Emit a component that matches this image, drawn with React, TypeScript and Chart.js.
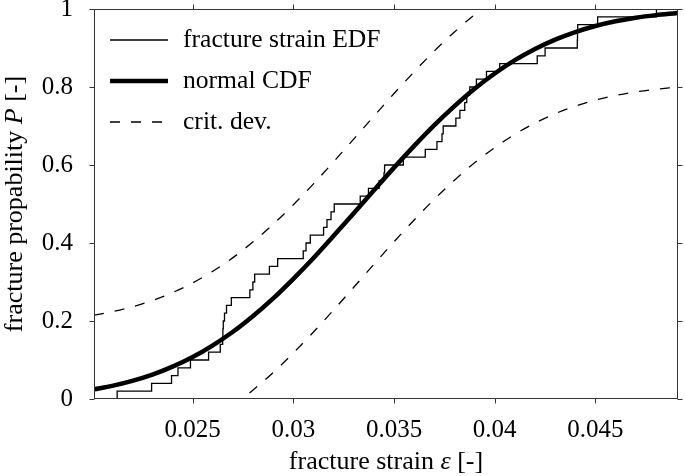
import React, { useEffect, useRef } from "react";
import { Chart, registerables } from "chart.js";

Chart.register(...registerables);

const X_MIN = 0.0201;
const X_MAX = 0.0491;
const xTicks = [0.025, 0.03, 0.035, 0.04, 0.045];
const xTickLabels = ["0.025", "0.03", "0.035", "0.04", "0.045"];
const yTicks = [0, 0.2, 0.4, 0.6, 0.8, 1];
const yTickLabels = ["0", "0.2", "0.4", "0.6", "0.8", "1"];

const seriesLabels = ["fracture strain EDF", "normal CDF", "crit. dev."];

const edfX = [
  0.0201, 0.02125, 0.02296, 0.02395, 0.02427, 0.02489, 0.02579, 0.02637, 0.02649,
  0.0265, 0.02652, 0.02658, 0.02668, 0.02692, 0.02784, 0.02799, 0.02808, 0.02881,
  0.02922, 0.03049, 0.03063, 0.03084, 0.0315, 0.03167, 0.03187, 0.03203, 0.03332,
  0.03373, 0.03426, 0.0345, 0.03453, 0.03546, 0.03655, 0.03713, 0.03738, 0.03744,
  0.03807, 0.03827, 0.03851, 0.03861, 0.03876, 0.03909, 0.03959, 0.04025, 0.04211,
  0.0425, 0.0441, 0.04411, 0.04412, 0.04511, 0.04803, 0.0491,
];
const edfY = [
  0, 0.02, 0.04, 0.06, 0.08, 0.1, 0.12, 0.14, 0.16, 0.18, 0.2, 0.22, 0.24, 0.26,
  0.28, 0.3, 0.32, 0.34, 0.36, 0.38, 0.4, 0.42, 0.44, 0.46, 0.48, 0.5, 0.52, 0.54,
  0.56, 0.58, 0.6, 0.62, 0.64, 0.66, 0.68, 0.7, 0.72, 0.74, 0.76, 0.78, 0.8, 0.82,
  0.84, 0.86, 0.88, 0.9, 0.92, 0.94, 0.96, 0.98, 1.0, 1.0,
];

// normal CDF curve
const cdfX = [
  0.0201, 0.021, 0.022, 0.023, 0.024, 0.025, 0.026, 0.027, 0.028, 0.029, 0.03,
  0.031, 0.032, 0.033, 0.034, 0.035, 0.036, 0.037, 0.038, 0.039, 0.04, 0.041,
  0.042, 0.043, 0.044, 0.045, 0.046, 0.047, 0.048, 0.049, 0.0491,
];
const cdfY = [
  0.0249, 0.0337, 0.0464, 0.0625, 0.0829, 0.1077, 0.1377, 0.1725, 0.213, 0.2581,
  0.3082, 0.3617, 0.4184, 0.4765, 0.5353, 0.5933, 0.6491, 0.7023, 0.7511, 0.7956,
  0.8347, 0.8688, 0.8976, 0.9216, 0.941, 0.9565, 0.9684, 0.9776, 0.9843, 0.9893,
  0.9898,
];

// critical deviation bands
const critUpX = [
  0.0201, 0.021, 0.022, 0.023, 0.024, 0.025, 0.026, 0.027, 0.028, 0.029, 0.03,
  0.031, 0.032, 0.033, 0.034, 0.035, 0.036, 0.037, 0.038, 0.039, 0.04,
];
const critUpY = [
  0.2149, 0.2237, 0.2364, 0.2525, 0.2729, 0.2977, 0.3277, 0.3625, 0.403, 0.4481,
  0.4982, 0.5517, 0.6084, 0.6665, 0.7253, 0.7833, 0.8391, 0.8923, 0.9411, 0.9856,
  1.0247,
];
const critLoX = [
  0.027, 0.028, 0.029, 0.03, 0.031, 0.032, 0.033, 0.034, 0.035, 0.036, 0.037,
  0.038, 0.039, 0.04, 0.041, 0.042, 0.043, 0.044, 0.045, 0.046, 0.047, 0.048,
  0.049, 0.0491,
];
const critLoY = [
  -0.0175, 0.023, 0.0681, 0.1182, 0.1717, 0.2284, 0.2865, 0.3453, 0.4033, 0.4591,
  0.5123, 0.5611, 0.6056, 0.6447, 0.6788, 0.7076, 0.7316, 0.751, 0.7665, 0.7784,
  0.7876, 0.7943, 0.7993, 0.7998,
];

const FONT = "'Liberation Serif', 'Times New Roman', serif";
const INK = "#000";
const AXIS = "#333";
const TICK_SIZE = 25;
const LEGEND_SIZE = 25.6;
const TITLE_SIZE = 26;
const DASH = [10, 11];

const pts = (xs: number[], ys: number[]) => xs.map((x, i) => ({ x, y: ys[i] }));

const decorPlugin = {
  id: "decor",
  afterDatasetsDraw(chart: any) {
    const { ctx, chartArea: a, scales } = chart;
    const L = Math.round(a.left) + 0.5;
    const R = Math.round(a.right) - 0.5;
    const T = Math.round(a.top) + 0.5;
    const B = Math.round(a.bottom) - 0.5;
    ctx.save();
    ctx.strokeStyle = AXIS;
    ctx.lineWidth = 1;
    ctx.setLineDash([]);
    ctx.strokeRect(L, T, R - L, B - T);
    ctx.beginPath();
    const TL = 5;
    xTicks.forEach((v) => {
      const px = Math.round(scales.x.getPixelForValue(v)) + 0.5;
      ctx.moveTo(px, B);
      ctx.lineTo(px, B + TL);
      ctx.moveTo(px, T);
      ctx.lineTo(px, T - TL);
    });
    yTicks.forEach((v) => {
      const py = Math.round(scales.y.getPixelForValue(v)) + 0.5;
      ctx.moveTo(L, py);
      ctx.lineTo(L - TL, py);
      ctx.moveTo(R, py);
      ctx.lineTo(R + TL, py);
    });
    ctx.stroke();

    // legend (inside plot, top-left)
    const rows = [
      { label: seriesLabels[0], width: 1.3, dash: [] as number[] },
      { label: seriesLabels[1], width: 4.5, dash: [] as number[] },
      { label: seriesLabels[2], width: 1.3, dash: DASH },
    ];
    ctx.fillStyle = INK;
    ctx.font = `${LEGEND_SIZE}px ${FONT}`;
    ctx.textBaseline = "middle";
    ctx.textAlign = "left";
    rows.forEach((r, i) => {
      const y = a.top + 31 + i * 41;
      ctx.beginPath();
      ctx.strokeStyle = INK;
      ctx.lineWidth = r.width;
      ctx.setLineDash(r.dash);
      ctx.moveTo(a.left + 16, y);
      ctx.lineTo(a.left + 74, y);
      ctx.stroke();
      ctx.setLineDash([]);
      ctx.fillText(r.label, a.left + 89, y);
    });

    // axis titles with italic symbols
    const drawMixed = (parts: { t: string; it: boolean }[], cx: number, cy: number) => {
      const fontOf = (it: boolean) => `${it ? "italic " : ""}${TITLE_SIZE}px ${FONT}`;
      let total = 0;
      parts.forEach((p) => {
        ctx.font = fontOf(p.it);
        total += ctx.measureText(p.t).width;
      });
      let x = cx - total / 2;
      parts.forEach((p) => {
        ctx.font = fontOf(p.it);
        ctx.fillText(p.t, x, cy);
        x += ctx.measureText(p.t).width;
      });
    };
    ctx.fillStyle = INK;
    ctx.textBaseline = "middle";
    ctx.textAlign = "left";
    drawMixed(
      [
        { t: "fracture strain ", it: false },
        { t: "ε", it: true },
        { t: " [-]", it: false },
      ],
      (a.left + a.right) / 2,
      462
    );
    ctx.save();
    ctx.translate(15, (a.top + a.bottom) / 2);
    ctx.rotate(-Math.PI / 2);
    drawMixed(
      [
        { t: "fracture propability ", it: false },
        { t: "P", it: true },
        { t: " [-]", it: false },
      ],
      0,
      0
    );
    ctx.restore();
    ctx.restore();
  },
};

export default function App() {
  const canvasRef = useRef<HTMLCanvasElement | null>(null);

  useEffect(() => {
    if (!canvasRef.current) return;
    const chart = new Chart(canvasRef.current, {
      type: "line",
      data: {
        datasets: [
          {
            label: seriesLabels[0],
            data: pts(edfX, edfY),
            borderColor: INK,
            borderWidth: 1.3,
            stepped: "before",
            pointRadius: 0,
            fill: false,
          },
          {
            label: seriesLabels[1],
            data: pts(cdfX, cdfY),
            borderColor: INK,
            borderWidth: 4.5,
            cubicInterpolationMode: "monotone",
            pointRadius: 0,
            fill: false,
          },
          {
            label: seriesLabels[2],
            data: pts(critUpX, critUpY),
            borderColor: INK,
            borderWidth: 1.3,
            borderDash: DASH,
            cubicInterpolationMode: "monotone",
            pointRadius: 0,
            fill: false,
          },
          {
            label: seriesLabels[2] + " (lower)",
            data: pts(critLoX, critLoY),
            borderColor: INK,
            borderWidth: 1.3,
            borderDash: DASH,
            cubicInterpolationMode: "monotone",
            pointRadius: 0,
            fill: false,
          },
        ],
      },
      options: {
        animation: false,
        responsive: false,
        layout: { padding: { left: 0, right: 7, top: 9, bottom: 0 } },
        plugins: { legend: { display: false }, tooltip: { enabled: false } },
        scales: {
          x: {
            type: "linear",
            min: X_MIN,
            max: X_MAX,
            grid: { display: false },
            border: { display: false },
            afterBuildTicks: (s: any) => {
              s.ticks = xTicks.map((v) => ({ value: v }));
            },
            afterFit: (s: any) => {
              s.height = 77;
              s.paddingLeft = 0;
              s.paddingRight = 0;
            },
            ticks: {
              color: INK,
              font: { family: FONT, size: TICK_SIZE },
              padding: 8,
              maxRotation: 0,
              autoSkip: false,
              callback: (v: any) => {
                const i = xTicks.findIndex((t) => Math.abs(t - Number(v)) < 1e-9);
                return i >= 0 ? xTickLabels[i] : "";
              },
            },
          },
          y: {
            type: "linear",
            min: 0,
            max: 1,
            grid: { display: false },
            border: { display: false },
            afterBuildTicks: (s: any) => {
              s.ticks = yTicks.map((v) => ({ value: v }));
            },
            afterFit: (s: any) => {
              s.width = 94;
              s.paddingTop = 0;
              s.paddingBottom = 0;
            },
            ticks: {
              color: INK,
              font: { family: FONT, size: TICK_SIZE },
              padding: 13,
              autoSkip: false,
              callback: (v: any) => {
                const i = yTicks.findIndex((t) => Math.abs(t - Number(v)) < 1e-9);
                return i >= 0 ? yTickLabels[i] : "";
              },
            },
          },
        },
      },
      plugins: [decorPlugin],
    });
    return () => chart.destroy();
  }, []);

  return (
    <div style={{ position: "absolute", left: 0, top: 0, width: 685, height: 476, background: "#fff" }}>
      <canvas ref={canvasRef} width={685} height={476} style={{ display: "block" }} />
    </div>
  );
}
